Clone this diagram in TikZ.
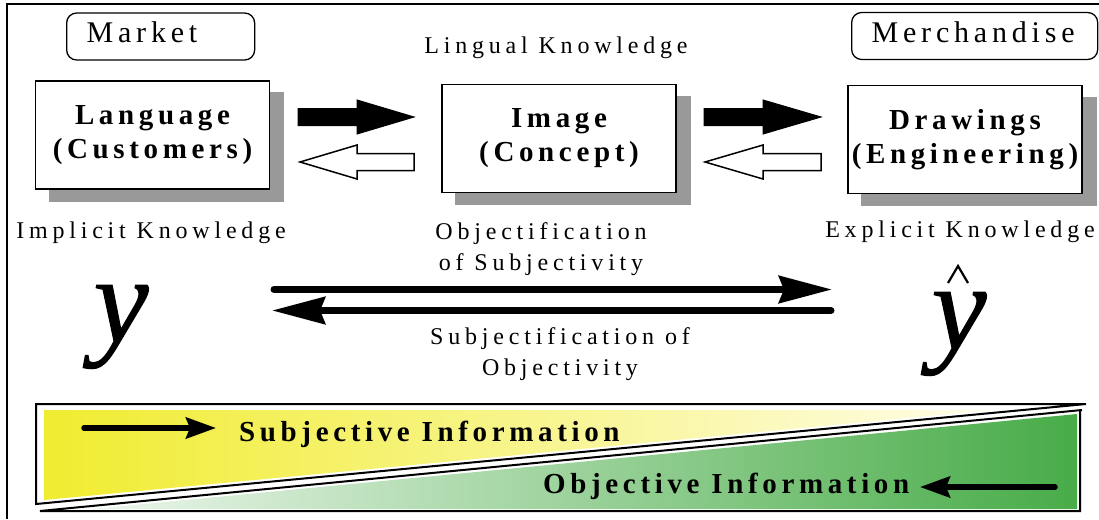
\documentclass[tikz,border=0pt]{standalone}
\usepackage{fontspec}
\setmainfont{Liberation Serif}[
  BoldFont={Liberation Serif Bold},
  ItalicFont={Liberation Serif Italic},
  BoldItalicFont={Liberation Serif Bold Italic}]
\newfontfamily\spaced{Liberation Serif}[LetterSpace=16,
  BoldFont={Liberation Serif Bold}]
\newfontfamily\wide{Liberation Serif}[LetterSpace=20]
\newfontfamily\symfont{Liberation Serif Italic}[FakeBold=0.8]
\usetikzlibrary{arrows.meta,calc,backgrounds}

\definecolor{shadowgray}{RGB}{153,153,153}
\definecolor{yelA}{RGB}{240,236,48}
\definecolor{yelM}{RGB}{246,242,100}
\definecolor{yelB}{RGB}{255,253,232}
\definecolor{grnA}{RGB}{236,246,236}
\definecolor{grnM}{RGB}{125,196,125}
\definecolor{grnB}{RGB}{72,172,72}

% block arrow: style, tail x, head base x, tip x, axis y
\newcommand\blockarrow[5]{%
  \draw[#1] (#2,#5-8.5) -- (#3,#5-8.5) -- (#3,#5-17) -- (#4,#5)
    -- (#3,#5+17) -- (#3,#5+8.5) -- (#2,#5+8.5) -- cycle;}

\begin{document}
\begin{tikzpicture}[x=1pt,y=-1pt,
  every node/.style={inner sep=0pt},
  tagbox/.style={draw, rounded corners=10pt, line width=1.3pt, minimum height=47pt,
    inner xsep=20pt, text height=20pt, text depth=7pt, align=left, anchor=west,
    font=\spaced\fontsize{30}{36}\selectfont},
  stepbox/.style={draw, fill=white, line width=1.8pt, minimum width=234pt,
    minimum height=108pt, align=center, font=\spaced\bfseries\fontsize{29}{34}\selectfont},
  lbl/.style={anchor=base, align=center, font=\wide\fontsize{24}{30.5}\selectfont},
  bandtext/.style={anchor=base west, font=\spaced\bfseries\fontsize{29}{34}\selectfont},
  bigsym/.style={anchor=base, font=\symfont\fontsize{124}{124}\selectfont},
  flowarrow/.style={line width=7pt, line cap=round, -{Stealth[length=53pt,width=27pt,inset=5pt]}},
  bandarrow/.style={line width=5.5pt, line cap=round, -{Stealth[length=30pt,width=21pt,inset=4pt]}},
  blackblock/.style={fill=black, draw=black, line width=1pt},
  whiteblock/.style={fill=white, draw=black, line width=1.5pt, line join=miter},
  edgeline/.style={line width=2pt},
]
\useasboundingbox (0,0) rectangle (1099,519);

% outer frame
\draw[edgeline] (7,519) -- (7,4) -- (1099,4);

% headings
\node[tagbox, text width=148pt] (mkt) at (66,36.5) {Market};
\node[tagbox, text width=206pt] (mer) at (851,36) {Merchandise};
\node[lbl] (ling) at (556,54) {Lingual Knowledge};

% the three stages
\node[stepbox] (lang) at (152.5,135) {Language\\(Customers)};
\node[stepbox] (img) at (559,138.5) {Image\\(Concept)};
\node[stepbox] (drw) at (965,139.5) {Drawings\\(Engineering)};
\begin{scope}[on background layer]
  \foreach \b in {lang,img,drw}
    \fill[shadowgray] ($(\b.south west)+(14,12)$) rectangle ($(\b.north east)+(14,12)$);
\end{scope}

% forward and feedback block arrows
\blockarrow{blackblock}{298}{357}{414}{117}
\blockarrow{blackblock}{704}{763}{821}{117}
\blockarrow{whiteblock}{414}{357}{300}{162}
\blockarrow{whiteblock}{821}{763}{705}{162}

% knowledge labels (base = baseline of the last line)
\node[lbl] (impl) at (151,238) {Implicit Knowledge};
\node[lbl] (expl) at (960,237) {Explicit Knowledge};
\node[lbl] (obj) at (541,270) {Objectification\\of Subjectivity};
\node[lbl] (subj) at (560,375) {Subjectification of\\Objectivity};

% y and y-hat
\node[bigsym] (y) at (121,342) {y};
\node[bigsym] (yh) at (959,349) {y};
\draw[line width=2.2pt] (948,283) -- (958,266) -- (968,283);

% objectification / subjectification arrows
\coordinate (os-a) at (274,289.5);
\coordinate (os-b) at (832,289.5);
\coordinate (so-a) at (831,310.5);
\coordinate (so-b) at (272,310.5);
\draw[flowarrow] (os-a) -- (os-b);
\draw[flowarrow] (so-a) -- (so-b);

% information band
\shade[left color=yelA, middle color=yelM, right color=yelB]
  (44,410) -- (992,410) -- (44,500) -- cycle;
\shade[left color=grnA, middle color=grnM, right color=grnB]
  (92,509) -- (1077,509) -- (1077,414) -- cycle;
\draw[edgeline] (1086,404) -- (36,404) -- (36,504) -- cycle;
\draw[edgeline] (1082,410) -- (40,511) -- (1080,511) -- (1080,411);

\coordinate (sa) at (84,428);
\coordinate (sb) at (216,428);
\draw[bandarrow] (sa) -- (sb);
\node[bandtext] (subinfo) at (239,441) {Subjective Information};

\coordinate (oa) at (1055,487);
\coordinate (ob) at (920,487);
\draw[bandarrow] (oa) -- (ob);
\node[bandtext] (objinfo) at (543,493) {Objective Information};
\end{tikzpicture}
\end{document}
